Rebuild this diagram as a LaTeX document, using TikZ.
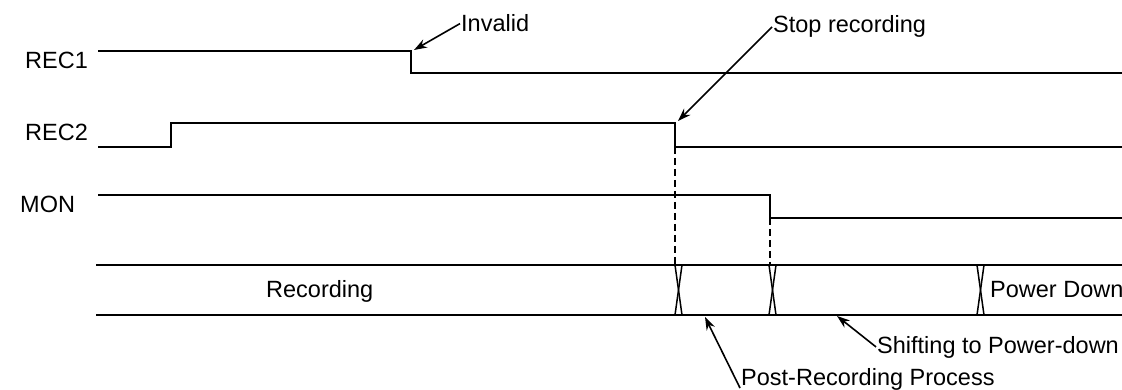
\documentclass[tikz,border=0pt]{standalone}
\usepackage{fontspec}
\setmainfont{Liberation Sans}
\usetikzlibrary{arrows.meta}
\begin{document}
\begin{tikzpicture}[x=1pt,y=-1pt,
  sig/.style={line width=1.7pt,line join=miter},
  dashline/.style={line width=1.7pt,dash pattern=on 7pt off 4pt},
  busline/.style={line width=1.7pt},
  xline/.style={line width=1.5pt},
  lbl/.style={font=\fontsize{23.5}{27}\selectfont,inner sep=1pt,anchor=base west},
  arr/.style={line width=1.6pt,-{Stealth[length=13pt,width=9pt]}}]
\useasboundingbox (0,0) rectangle (1122,390);
% signal labels
\node[lbl] (rec1) at (24,69) {REC1};
\node[lbl] (rec2) at (24,141) {REC2};
\node[lbl] (mon)  at (19,213) {MON};
% waveforms
\draw[sig] (98,51) -- (411,51) -- (411,73) -- (1122,73);
\draw[sig] (98,147) -- (171,147) -- (171,123) -- (675,123) -- (675,147) -- (1122,147);
\draw[sig] (98,195) -- (770,195) -- (770,218) -- (1122,218);
% dashed guides
\draw[dashline] (675,147) -- (675,265);
\draw[dashline] (770,218) -- (770,265);
% bus
\draw[busline] (96,265) -- (1122,265);
\draw[busline] (96,315) -- (1122,315);
\foreach \xa/\xb in {675/682, 769/776, 977/984}{
  \draw[xline] (\xa,265) -- (\xb,315);
  \draw[xline] (\xb,265) -- (\xa,315);
}
\node[lbl] (recording) at (265,297) {Recording};
\node[lbl] (pd) at (989,297) {Power Down};
% annotations
\node[lbl] (inv) at (460,32) {Invalid};
\node[lbl] (stop) at (772,33) {Stop recording};
\node[lbl] (shift) at (876,353) {Shifting to Power-down};
\node[lbl] (post) at (740,385) {Post-Recording Process};
\coordinate (invtip) at (414,50);
\coordinate (stoptip) at (678,121);
\coordinate (shifttip) at (837,316);
\coordinate (posttip) at (705,317);
\draw[arr] (inv.west) -- (invtip);
\draw[arr] (stop.west) -- (stoptip);
\draw[arr] (shift.west) -- (shifttip);
\draw[arr] ([yshift=-3pt]post.base west) -- (posttip);
\end{tikzpicture}
\end{document}
